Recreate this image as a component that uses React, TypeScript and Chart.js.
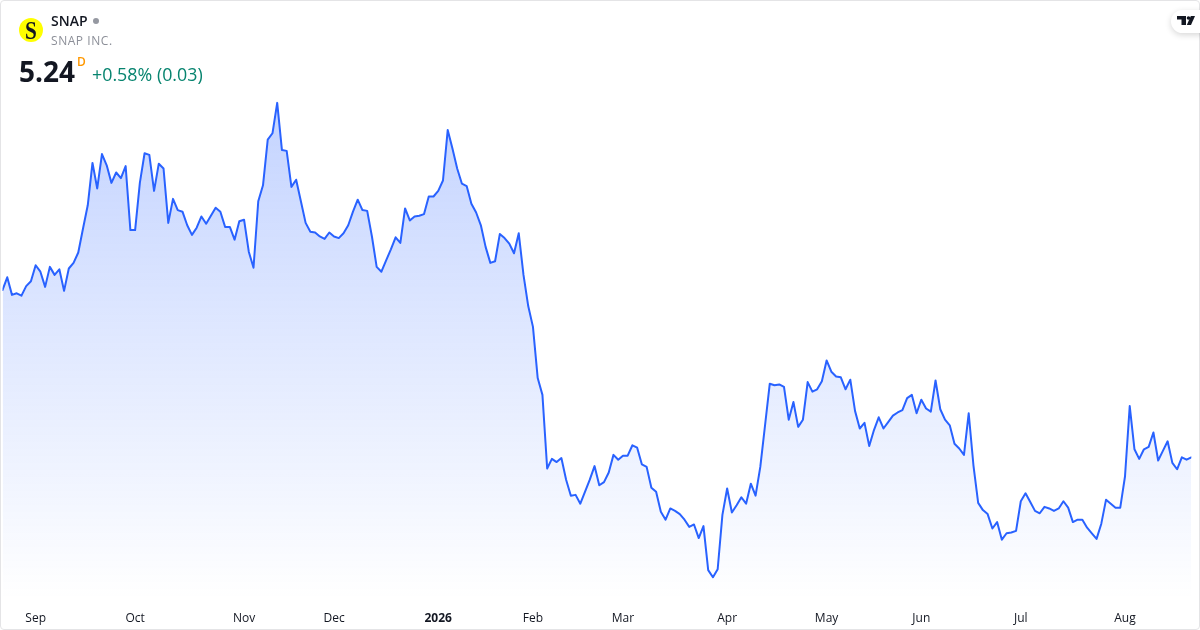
import React, { useEffect, useRef } from "react";
import { Chart, registerables } from "chart.js";

Chart.register(...registerables);

const prices: number[] = [
  7.33, 7.49, 7.27, 7.29, 7.26, 7.38, 7.44, 7.64, 7.56, 7.37, 7.62, 7.52, 7.59, 7.32, 7.60, 7.67, 7.80, 8.10, 8.39, 8.92,
  8.60, 9.03, 8.89, 8.67, 8.80, 8.73, 8.88, 8.08, 8.08, 8.67, 9.04, 9.02, 8.57, 8.91, 8.85, 8.17, 8.47, 8.33, 8.31, 8.14,
  8.02, 8.11, 8.25, 8.16, 8.26, 8.36, 8.31, 8.12, 8.12, 7.96, 8.19, 8.21, 7.81, 7.61, 8.44, 8.64, 9.21, 9.29, 9.67, 9.08,
  9.07, 8.62, 8.71, 8.44, 8.17, 8.06, 8.05, 8.00, 7.97, 8.05, 8.00, 7.98, 8.04, 8.14, 8.31, 8.46, 8.33, 8.32, 8.00, 7.62,
  7.56, 7.70, 7.84, 7.99, 7.92, 8.35, 8.20, 8.25, 8.26, 8.28, 8.50, 8.50, 8.57, 8.70, 9.33, 9.10, 8.85, 8.66, 8.63, 8.41,
  8.30, 8.14, 7.87, 7.67, 7.69, 8.03, 7.98, 7.91, 7.79, 8.04, 7.52, 7.13, 6.87, 6.23, 6.02, 5.10, 5.22, 5.18, 5.23, 4.96,
  4.76, 4.77, 4.66, 4.81, 4.96, 5.13, 4.89, 4.93, 5.05, 5.27, 5.21, 5.26, 5.26, 5.39, 5.36, 5.15, 5.12, 4.86, 4.81, 4.56,
  4.46, 4.60, 4.57, 4.53, 4.46, 4.37, 4.40, 4.23, 4.38, 3.83, 3.74, 3.84, 4.52, 4.85, 4.55, 4.64, 4.74, 4.66, 4.91, 4.76,
  5.12, 5.64, 6.16, 6.14, 6.15, 6.12, 5.71, 5.93, 5.62, 5.71, 6.18, 6.06, 6.09, 6.19, 6.45, 6.31, 6.25, 6.24, 6.09, 6.21,
  5.82, 5.60, 5.67, 5.38, 5.58, 5.74, 5.60, 5.68, 5.76, 5.80, 5.83, 5.98, 6.02, 5.79, 5.96, 5.85, 5.81, 6.20, 5.84, 5.71,
  5.64, 5.41, 5.35, 5.27, 5.79, 5.14, 4.67, 4.58, 4.53, 4.35, 4.43, 4.21, 4.29, 4.30, 4.32, 4.69, 4.79, 4.68, 4.57, 4.54,
  4.62, 4.60, 4.57, 4.60, 4.69, 4.61, 4.43, 4.46, 4.46, 4.36, 4.29, 4.22, 4.41, 4.71, 4.66, 4.61, 4.61, 5.00, 5.88, 5.34,
  5.22, 5.34, 5.37, 5.55, 5.20, 5.32, 5.44, 5.17, 5.09, 5.24, 5.21, 5.24,
];
const tickLabels: string[] = ["Sep", "Oct", "Nov", "Dec", "2026", "Feb", "Mar", "Apr", "May", "Jun", "Jul", "Aug"];
const tickIndexes: number[] = [7, 28, 51, 70, 92, 112, 131, 153, 174, 194, 215, 237];
const symbol = "SNAP";
const company = "SNAP INC.";
const lastPrice = "5.24";
const change = "+0.58% (0.03)";

const FONT = '"Open Sans", "Noto Sans", sans-serif';

export default function App() {
  const ref = useRef<HTMLCanvasElement | null>(null);

  useEffect(() => {
    const chart = new Chart(ref.current!, {
      type: "line",
      data: {
        labels: prices.map((_, i) => i),
        datasets: [
          {
            data: prices.map((y, x) => ({ x, y })),
            borderColor: "#2962FF",
            borderWidth: 2,
            borderJoinStyle: "round",
            borderCapStyle: "round",
            pointRadius: 0,
            tension: 0,
            fill: "start",
            backgroundColor: (ctx: any) => {
              const area = ctx.chart.chartArea;
              if (!area) return "transparent";
              const g = ctx.chart.ctx.createLinearGradient(0, 100, 0, 600);
              g.addColorStop(0, "rgba(41,98,255,0.28)");
              g.addColorStop(1, "rgba(41,98,255,0)");
              return g;
            },
          },
        ],
      },
      options: {
        responsive: false,
        animation: false,
        events: [],
        layout: { padding: { left: 2.5, right: 8.7, top: 0, bottom: 0 } },
        plugins: { legend: { display: false }, tooltip: { enabled: false }, title: { display: false } },
        scales: {
          y: { display: false, min: 3.456, max: 10.956 },
          x: {
            type: "linear",
            min: 0,
            max: 251,
            border: { display: false },
            grid: { display: false, drawTicks: false },
            afterFit: (s: any) => {
              s.height = 30;
            },
            afterBuildTicks: (s: any) => {
              s.ticks = tickIndexes.map((value) => ({ value }));
            },
            ticks: {
              autoSkip: false,
              maxRotation: 0,
              padding: 11,
              color: "#131722",
              font: (ctx: any) => ({
                family: FONT,
                size: 12,
                weight: tickLabels[ctx.index] === "2026" ? "bold" : "normal",
              }),
              callback: (_: any, i: number) => tickLabels[i],
            },
          },
        },
      },
    } as any);
    return () => chart.destroy();
  }, []);

  return (
    <div style={{ position: "fixed", left: 0, top: 0, width: 1200, height: 630, background: "#fff", overflow: "hidden", fontFamily: FONT }}>
      <canvas ref={ref} width={1200} height={630} style={{ position: "absolute", left: 0, top: 0, display: "block", width: 1200, height: 630 }} />
      <div style={{ position: "absolute", left: 0, top: 0, width: 1200, height: 630, boxSizing: "border-box", border: "1px solid #e4e4e6", borderRadius: 4, pointerEvents: "none" }} />
      <div style={{ position: "absolute", left: 19, top: 18, width: 24, height: 24, borderRadius: 12, background: "#FFFF00" }} />
      <div style={{ position: "absolute", left: 19, top: 18, width: 24, height: 24, color: "#131722", fontFamily: '"Liberation Serif", serif', fontWeight: 700, fontSize: 25, lineHeight: "25px", textAlign: "center", transform: "scaleX(0.85)" }}>S</div>
      <div style={{ position: "absolute", left: 51, top: 12, fontSize: 14, lineHeight: "18px", fontWeight: 600, color: "#131722" }}>{symbol}</div>
      <div style={{ position: "absolute", left: 93, top: 18, width: 6, height: 6, borderRadius: 3, background: "#9598a1" }} />
      <div style={{ position: "absolute", left: 51, top: 33, fontSize: 12, lineHeight: "16px", color: "#8c8f98", letterSpacing: 0.55 }}>{company}</div>
      <div style={{ position: "absolute", left: 19, top: 52, fontSize: 28, lineHeight: "38px", fontWeight: 700, color: "#131722" }}>{lastPrice}</div>
      <div style={{ position: "absolute", left: 77, top: 55, fontSize: 12, lineHeight: "14px", fontWeight: 600, color: "#FF9800" }}>D</div>
      <div style={{ position: "absolute", left: 92, top: 62, fontSize: 17.85, lineHeight: "24px", color: "#07846f" }}>{change}</div>
      <div style={{ position: "absolute", left: 1171, top: 10, width: 40, height: 23, borderRadius: 12, background: "#fff", boxShadow: "0 2px 6px rgba(0,0,0,0.16)" }} />
      <svg style={{ position: "absolute", left: 1176, top: 15 }} width="20" height="11" viewBox="0 0 20 11">
        <path d="M1 1h9v9H5.5V4.5H1z" fill="#131722" />
        <circle cx="12.5" cy="3" r="1.8" fill="#131722" />
        <path d="M14.8 1H19l-4 9h-4.2z" fill="#131722" />
      </svg>
    </div>
  );
}
